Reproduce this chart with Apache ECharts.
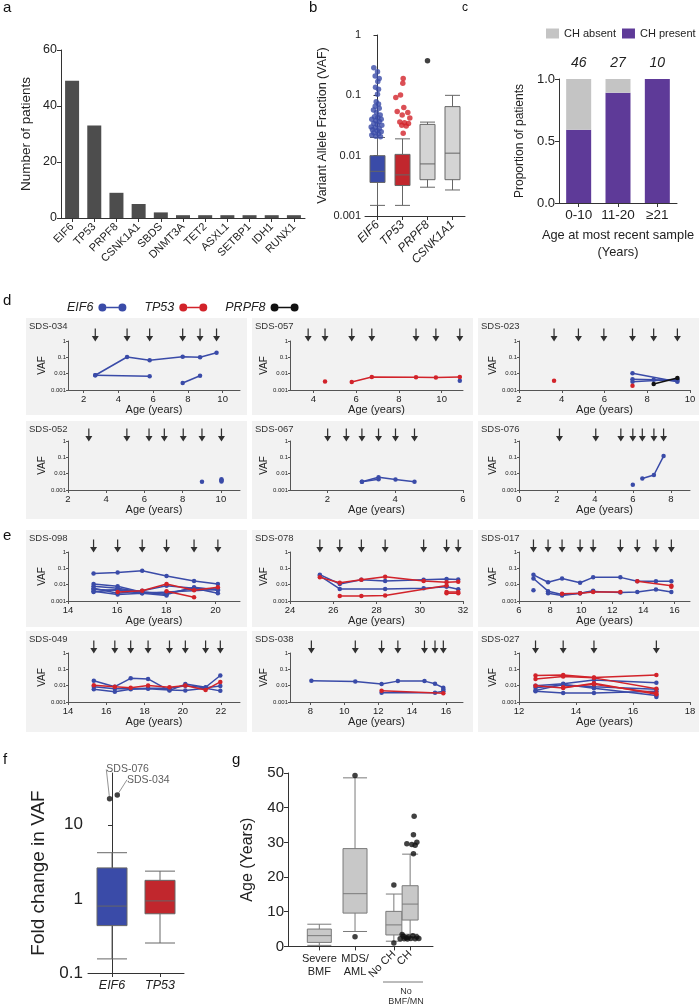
<!DOCTYPE html>
<html><head><meta charset="utf-8">
<script src="https://cdn.jsdelivr.net/npm/echarts@6/dist/echarts.min.js"></script>
<style>html,body{margin:0;padding:0;background:#fff}#c{width:700px;height:1005px}</style>
</head><body><div id="c"></div>
<script>
// ---------- DATA ----------
// panel a
const genesA = ['EIF6','TP53','PRPF8','CSNK1A1','SBDS','DNMT3A','TET2','ASXL1','SETBP1','IDH1','RUNX1'];
const patientsA = [49,33,9,5,2,1,1,1,1,1,1];
// panel b  [min, Q1, median, Q3, max]
const genesB = ['EIF6','TP53','PRPF8','CSNK1A1'];
const vafBox = [[0.0015,0.0036,0.0055,0.0100,0.020],[0.0015,0.0032,0.0048,0.0105,0.019],[0.0030,0.0040,0.0073,0.033,0.036],[0.0027,0.0040,0.011,0.065,0.10]];
const vafOutEIF6 = [0.287,0.247,0.21,0.19,0.17,0.136,0.126,0.104,0.078,0.072,0.066,0.061,0.057,0.052,0.047,0.044,0.043,0.040,0.040,0.038,0.037,0.034,0.033,0.032,0.030,0.029,0.028,0.027,0.026,0.025,0.024,0.023,0.021,0.022,0.0205];
const vafOutTP53 = [0.19,0.158,0.101,0.092,0.063,0.054,0.052,0.047,0.042,0.036,0.035,0.034,0.032,0.031,0.0235];
const vafOutPRPF8 = [0.375];
// panel c
const ageGroupsC = ['0-10','11-20','\u226521'];
const chPresent = [0.59,0.89,1.0];
const chAbsent = [0.41,0.11,0.0];
const groupN = [46,27,10];
// panels d / e : sample ages and VAF tracks [age, VAF]
const sds034Samples = [2.67,4.5,5.8,7.7,8.7,9.65];
const sds034EIF6 = [[[2.67,0.008],[4.5,0.105],[5.8,0.066],[7.7,0.11],[8.7,0.1],[9.65,0.19]],[[2.67,0.008],[5.8,0.007]],[[7.7,0.0027],[8.7,0.0075]]];
const sds034TP53 = [];
const sds034PRPF8 = [];
const sds057Samples = [3.75,4.54,5.79,6.73,8.8,9.73,10.85];
const sds057EIF6 = [[[10.85,0.0037]]];
const sds057TP53 = [[[4.54,0.0033]],[[5.79,0.0031],[6.73,0.0062],[8.8,0.006],[9.73,0.0058],[10.85,0.0062]]];
const sds057PRPF8 = [];
const sds023Samples = [3.64,4.78,5.97,7.31,8.3,9.41];
const sds023EIF6 = [[[7.31,0.0105],[9.41,0.0032]],[[7.31,0.0045],[8.3,0.0042],[9.41,0.0037]],[[7.31,0.0032],[9.41,0.0045]]];
const sds023TP53 = [[[3.64,0.0037]],[[7.31,0.0018]]];
const sds023PRPF8 = [[[8.3,0.0023],[9.41,0.0055]]];
const sds052Samples = [3.09,5.08,6.24,7.04,8.03,9.01,10.03];
const sds052EIF6 = [[[9.01,0.0032]],[[10.03,0.0033]],[[10.03,0.004]],[[10.03,0.0046]]];
const sds052TP53 = [];
const sds052PRPF8 = [];
const sds067Samples = [2.01,2.56,3.02,3.51,4.01,4.57];
const sds067EIF6 = [[[3.02,0.0032],[3.51,0.006],[4.01,0.0044],[4.57,0.0032]],[[3.02,0.0032],[3.51,0.0045]]];
const sds067TP53 = [];
const sds067PRPF8 = [];
const sds076Samples = [2.13,4.04,5.36,5.99,6.49,7.1,7.61];
const sds076EIF6 = [[[5.99,0.0021]],[[6.49,0.005],[7.1,0.0083],[7.61,0.12]]];
const sds076TP53 = [];
const sds076PRPF8 = [];
const sds098Samples = [15.04,16.02,17.02,18.01,19.13,20.1];
const sds098EIF6 = [[[15.04,0.048],[16.02,0.055],[17.02,0.072],[18.01,0.034],[19.13,0.017],[20.1,0.011]],
  [[15.04,0.011],[16.02,0.008],[17.02,0.0035],[18.01,0.0025],[19.13,0.007],[20.1,0.0045]],
  [[15.04,0.008],[16.02,0.006],[17.02,0.0035],[18.01,0.003],[19.13,0.006],[20.1,0.0055]],
  [[15.04,0.006],[16.02,0.003],[17.02,0.0042],[18.01,0.0085],[19.13,0.006],[20.1,0.003]],
  [[15.04,0.005],[16.02,0.0045],[17.02,0.003],[18.01,0.0035],[20.1,0.005]],
  [[15.04,0.004],[16.02,0.0025],[17.02,0.003],[18.01,0.0022]],
  [[15.04,0.0035],[16.02,0.005],[17.02,0.0035]]];
const sds098TP53 = [[[16.02,0.0035],[17.02,0.0042],[18.01,0.011],[19.13,0.0045],[20.1,0.007]],[[18.01,0.004],[19.13,0.0017]]];
const sds098PRPF8 = [];
const sds078Samples = [25.38,26.3,27.3,28.4,30.18,31.24,31.78];
const sds078EIF6 = [[[25.38,0.041],[26.3,0.011],[27.3,0.02],[28.4,0.017],[30.18,0.02],[31.24,0.022],[31.78,0.021]],
  [[25.38,0.035],[26.3,0.0055],[28.4,0.0055],[30.18,0.006],[31.24,0.0075],[31.78,0.0052]]];
const sds078TP53 = [[[25.38,0.028],[26.3,0.013],[27.3,0.02],[28.4,0.031],[30.18,0.017],[31.24,0.014],[31.78,0.015]],
  [[26.3,0.002],[27.3,0.002],[28.4,0.0022],[31.24,0.009]],
  [[31.24,0.0035],[31.78,0.0035]],[[31.24,0.003],[31.78,0.003]]];
const sds078PRPF8 = [];
const sds017Samples = [6.93,7.87,8.77,9.93,10.77,12.52,13.61,14.81,15.8];
const sds017EIF6 = [[[6.93,0.04],[7.87,0.014],[8.77,0.024],[9.93,0.013],[10.77,0.028],[12.52,0.028],[13.61,0.016],[14.81,0.016],[15.8,0.016]],
  [[6.93,0.024],[7.87,0.004],[8.77,0.0025],[9.93,0.003],[10.77,0.0038],[12.52,0.0033],[13.61,0.0035],[14.81,0.005],[15.8,0.0035]],
  [[6.93,0.0045]],
  [[7.87,0.003],[8.77,0.0022],[9.93,0.003],[10.77,0.0042]]];
const sds017TP53 = [[[8.77,0.0028],[9.93,0.003],[10.77,0.0035],[12.52,0.0035]],[[13.61,0.016],[15.8,0.0085]],[[15.8,0.0075]]];
const sds017PRPF8 = [];
const sds049Samples = [15.35,16.45,17.28,18.19,19.31,20.14,21.2,21.97];
const sds049EIF6 = [[[15.35,0.02],[16.45,0.0087],[17.28,0.028],[18.19,0.026],[19.31,0.005],[20.14,0.0125],[21.2,0.008],[21.97,0.042]],
  [[15.35,0.0085],[16.45,0.0065],[17.28,0.0065],[18.19,0.007],[19.31,0.007],[20.14,0.01],[21.2,0.0075],[21.97,0.0095]],
  [[15.35,0.006],[16.45,0.0043],[17.28,0.006],[18.19,0.0065],[19.31,0.0055],[20.14,0.005],[21.2,0.007],[21.97,0.0048]]];
const sds049TP53 = [[[15.35,0.0105],[16.45,0.0085],[17.28,0.0075],[18.19,0.0102],[19.31,0.008],[20.14,0.0102],[21.2,0.0055],[21.97,0.017]]];
const sds049PRPF8 = [];
const sds038Samples = [8.06,10.65,12.2,13.16,14.73,15.35,15.84];
const sds038EIF6 = [[[8.06,0.02],[10.65,0.018],[12.2,0.0125],[13.16,0.019],[14.73,0.019],[15.35,0.013],[15.84,0.0075]],
  [[12.2,0.0037],[15.35,0.0037],[15.84,0.0045]],[[15.84,0.0058]]];
const sds038TP53 = [[[12.2,0.0048],[15.84,0.0034]]];
const sds038PRPF8 = [];
const sds027Samples = [12.58,13.55,14.63,16.82];
const sds027EIF6 = [[[12.58,0.01],[13.55,0.013],[14.63,0.022],[16.82,0.015]],
  [[12.58,0.0075],[13.55,0.011],[14.63,0.0085],[16.82,0.006]],
  [[12.58,0.005],[13.55,0.012],[14.63,0.007],[16.82,0.0025]],
  [[12.58,0.0045],[13.55,0.0035],[14.63,0.0035],[16.82,0.0045]],
  [[16.82,0.002]]];
const sds027TP53 = [[[12.58,0.042],[13.55,0.045],[14.63,0.032],[16.82,0.045]],
  [[12.58,0.026],[13.55,0.036],[14.63,0.03],[16.82,0.0065]],
  [[12.58,0.0098],[13.55,0.0072],[14.63,0.014],[16.82,0.003]],
  [[13.55,0.008],[14.63,0.012],[16.82,0.0035]]];
const sds027PRPF8 = [];
// axis ranges and tick labels of panels d/e
const xRanges = [[1.1,11],[2.9,11],[2,10],[2,11],[0.9,6],[0,9],[14,21],[24,32],[6,17],[14,23],[6.8,17],[12,18]];
const xTicks = [[2,4,6,8,10],[4,6,8,10],[2,4,6,8,10],[2,4,6,8,10],[2,4,6],[0,2,4,6,8],[14,16,18,20],[24,26,28,30,32],[6,8,10,12,14,16],[14,16,18,20,22],[8,10,12,14,16],[12,14,16,18]];
// panel f
const foldGenes = ['EIF6','TP53'];
const foldBox = [[0.155,0.436,0.80,2.62,4.2],[0.254,0.63,0.94,1.78,2.37]];
const foldOutNames = ['SDS-076','SDS-034'];
const foldOutValues = [22.5,25.2];
// panel g
const groupsG = ['Severe\nBMF','MDS/\nAML','No CH','CH'];
const ageBox = [[0.3,1.15,3.1,5.0,6.4],[4.3,9.6,15.2,28.2,48.6],[1.5,3.3,6.2,10.1,15.1],[3.5,7.6,12.2,17.5,26.6]];
const ageOutMDS = [49.3,2.8];
const ageOutNoCH = [17.7,1.0];
const ageOutCH = [37.5,32.2,30.0,29.6,29.4,29.2,26.7,2.2,3.4,2.2,2.5,2.7,2.3,3.1,2.2,2.7,2.3,2.9,2.1];

// ---------- LAYOUT (jitter in px, positions) ----------
const jitEIF6 = [-3.7,0,-2.3,1.7,0.3,-2,1,0,-1.3,1,-2.3,1.7,-4,-1,2.7,-3,0.3,-5.7,3.7,-1.7,1.7,-3.7,-0.3,4.3,-6.3,-2.3,1.7,-5,-0.3,3.7,-3.7,1,-1.7,-5.7,3];
const jitTP53 = [0.7,0.3,-2,-6.7,1.3,-5.3,5.3,-0.3,7.3,-2.7,2,6,-0.7,3.7,0.7];
const jitCH = [4,3.3,6.7,-3.3,1.7,5,3.3,-10,-8,-6,-4,-1.7,0.7,2.7,5,6.7,8.7,-6.7,-2.7];
const posG = [1,2.14,3.38,3.9];

const FONT = '"Liberation Sans", Arial, Helvetica, sans-serif';
const BLUE = '#3A4BA8', RED = '#D2232A', BLK = '#111111', AX = '#333333', TXT = '#222222';
const geneColor = {EIF6: BLUE, TP53: RED, PRPF8: BLK};

const grid = [], xAxis = [], yAxis = [], series = [], graphic = [];
const addGrid = g => (grid.push(g), grid.length - 1);
const addX = o => (xAxis.push(o), xAxis.length - 1);
const addY = o => (yAxis.push(o), yAxis.length - 1);
const axLine = {show: true, lineStyle: {color: AX, width: 1}};
const axTick = {show: true, length: 4, lineStyle: {color: AX}};
const letter = (t, x, y, fs) => graphic.push({type: 'text', left: x, top: y, style: {text: t, fontSize: fs || 15, fontFamily: FONT, fill: '#111'}});

// ---------- a ----------
letter('a', 3, 0);
{
  const g = addGrid({left: 61, top: 50, width: 244, height: 168});
  const xi = addX({gridIndex: g, type: 'category', data: genesA, axisLine: axLine, axisTick: {...axTick, alignWithLabel: true},
    axisLabel: {rotate: 45, interval: 0, fontSize: 11, color: TXT, margin: 7, fontFamily: FONT}});
  const yi = addY({gridIndex: g, type: 'value', min: 0, max: 60, interval: 20, axisLine: axLine, axisTick: axTick, splitLine: {show: false},
    axisLabel: {fontSize: 12.5, color: TXT, margin: 4}, name: 'Number of patients', nameLocation: 'middle', nameGap: 28,
    nameTextStyle: {fontSize: 13.5, color: TXT}});
  series.push({type: 'bar', xAxisIndex: xi, yAxisIndex: yi, data: patientsA, barWidth: 14, itemStyle: {color: '#4D4D4D'}});
}
// ---------- b ----------
letter('b', 309, 0);
{
  const gw = 100;
  const g = addGrid({left: 365, top: 35, width: gw, height: 181});
  const xi = addX({gridIndex: g, type: 'category', data: genesB, axisLine: axLine, axisTick: {...axTick, alignWithLabel: true},
    axisLabel: {rotate: 45, interval: 0, fontSize: 12, fontStyle: 'italic', color: TXT, margin: 7}});
  const xv = addX({gridIndex: g, type: 'value', min: -0.5, max: 3.5, show: false});
  const yi = addY({gridIndex: g, type: 'log', logBase: 10, min: 0.001, max: 1, axisLine: axLine, axisTick: axTick, splitLine: {show: false},
    axisLabel: {fontSize: 11, color: TXT, margin: 4}, name: 'Variant Allele Fraction (VAF)', nameLocation: 'middle', nameGap: 36,
    nameTextStyle: {fontSize: 12.5, color: TXT}});
  const fills = [BLUE, '#C1272D', '#D4D4D4', '#D4D4D4'];
  series.push({type: 'boxplot', xAxisIndex: xi, yAxisIndex: yi, boxWidth: [15, 15],
    data: vafBox.map((v, i) => ({value: v, itemStyle: {color: fills[i], borderColor: '#666', borderWidth: 1}}))});
  const ppu = gw / 4;
  series.push({type: 'scatter', xAxisIndex: xv, yAxisIndex: yi, symbolSize: 5.5, itemStyle: {color: BLUE},
    data: vafOutEIF6.map((v, i) => [0 + jitEIF6[i] / ppu, v])});
  series.push({type: 'scatter', xAxisIndex: xv, yAxisIndex: yi, symbolSize: 5.5, itemStyle: {color: RED},
    data: vafOutTP53.map((v, i) => [1 + jitTP53[i] / ppu, v])});
  series.push({type: 'scatter', xAxisIndex: xv, yAxisIndex: yi, symbolSize: 5.5, itemStyle: {color: BLK},
    data: vafOutPRPF8.map(v => [2, v])});
}
// ---------- c ----------
letter('c', 462, 2, 12);
const legendC = {left: 546, top: 28, orient: 'horizontal', padding: 0, itemWidth: 13, itemHeight: 10, itemGap: 6, icon: 'rect',
  textStyle: {fontSize: 11, color: TXT}, data: ['CH absent', 'CH present'], selectedMode: false};
{
  const g = addGrid({left: 559, top: 79, width: 118, height: 124});
  const xi = addX({gridIndex: g, type: 'category', data: ageGroupsC, axisLine: axLine, axisTick: {...axTick, alignWithLabel: true},
    axisLabel: {fontSize: 13.5, color: TXT, margin: 5, interval: 0, hideOverlap: false}, name: 'Age at most recent sample\n(Years)', nameLocation: 'middle', nameGap: 24,
    nameTextStyle: {fontSize: 12.8, color: TXT, lineHeight: 17}});
  const yi = addY({gridIndex: g, type: 'value', min: 0, max: 1, interval: 0.5, axisLine: axLine, axisTick: axTick, splitLine: {show: false},
    axisLabel: {fontSize: 13, color: TXT, margin: 4, formatter: v => v.toFixed(1)}, name: 'Proportion of patients', nameLocation: 'middle', nameGap: 33,
    nameTextStyle: {fontSize: 12, color: TXT}});
  series.push({type: 'bar', name: 'CH present', stack: 'c', xAxisIndex: xi, yAxisIndex: yi, data: chPresent, barWidth: 25, itemStyle: {color: '#5E3A98'}});
  series.push({type: 'bar', name: 'CH absent', stack: 'c', xAxisIndex: xi, yAxisIndex: yi, data: chAbsent, barWidth: 25, itemStyle: {color: '#C4C4C4'},
    label: {show: true, position: 'top', distance: 9, fontSize: 14, fontStyle: 'italic', color: TXT, formatter: p => String(groupN[p.dataIndex])}});
}
// ---------- d / e ----------
letter('d', 3, 293);
letter('e', 3, 528);
const legendD = {left: 62, top: 296, align: 'right', itemWidth: 28, itemHeight: 8, itemGap: 18, selectedMode: false,
  icon: 'path://M0,4a4,4 0 1,0 8,0a4,4 0 1,0 -8,0 M8,3.3 L20,3.3 L20,4.7 L8,4.7 Z M20,4a4,4 0 1,0 8,0a4,4 0 1,0 -8,0',
  textStyle: {fontSize: 12.5, fontStyle: 'italic', color: TXT}, data: ['EIF6', 'TP53', 'PRPF8']};
const panels = [
  ['SDS-034', sds034Samples, sds034EIF6, sds034TP53, sds034PRPF8],
  ['SDS-057', sds057Samples, sds057EIF6, sds057TP53, sds057PRPF8],
  ['SDS-023', sds023Samples, sds023EIF6, sds023TP53, sds023PRPF8],
  ['SDS-052', sds052Samples, sds052EIF6, sds052TP53, sds052PRPF8],
  ['SDS-067', sds067Samples, sds067EIF6, sds067TP53, sds067PRPF8],
  ['SDS-076', sds076Samples, sds076EIF6, sds076TP53, sds076PRPF8],
  ['SDS-098', sds098Samples, sds098EIF6, sds098TP53, sds098PRPF8],
  ['SDS-078', sds078Samples, sds078EIF6, sds078TP53, sds078PRPF8],
  ['SDS-017', sds017Samples, sds017EIF6, sds017TP53, sds017PRPF8],
  ['SDS-049', sds049Samples, sds049EIF6, sds049TP53, sds049PRPF8],
  ['SDS-038', sds038Samples, sds038EIF6, sds038TP53, sds038PRPF8],
  ['SDS-027', sds027Samples, sds027EIF6, sds027TP53, sds027PRPF8]
];
const colLeft = [68, 290, 519], colW = [172, 173, 171];
const rowTop = [341, 441, 552, 653], plotH = 49;
const bgX = [26, 252, 478], bgW = [221, 221, 221];
const bgY = [318, 421, 530, 631], bgH = [97, 98, 97, 101];
const ARROW = 'path://M3.3,0 L4.7,0 L4.7,8 L8,8 L4,14 L0,8 L3.3,8 Z';
panels.forEach((p, k) => {
  const c = k % 3, r = Math.floor(k / 3);
  graphic.push({type: 'rect', z: -10, shape: {x: bgX[c], y: bgY[r], width: bgW[c], height: bgH[r]}, style: {fill: '#F2F2F2'}});
  graphic.push({type: 'text', left: bgX[c] + 3, top: bgY[r] + 3, style: {text: p[0], fontSize: 9.5, fontFamily: FONT, fill: '#333'}});
  const g = addGrid({left: colLeft[c], top: rowTop[r], width: colW[c], height: plotH});
  const xi = addX({gridIndex: g, type: 'value', min: xRanges[k][0], max: xRanges[k][1], splitLine: {show: false},
    axisLine: {show: true, lineStyle: {color: '#555'}}, axisTick: {show: true, length: 3, lineStyle: {color: '#555'}, customValues: xTicks[k]},
    axisLabel: {fontSize: 9.5, color: TXT, margin: 4, customValues: xTicks[k]},
    name: 'Age (years)', nameLocation: 'middle', nameGap: 14, nameTextStyle: {fontSize: 11, color: TXT}});
  const yi = addY({gridIndex: g, type: 'log', logBase: 10, min: 0.001, max: 1, splitLine: {show: false},
    axisLine: {show: true, lineStyle: {color: '#555'}}, axisTick: {show: true, length: 2, lineStyle: {color: '#555'}},
    axisLabel: {fontSize: 6, color: TXT, margin: 2}, name: 'VAF', nameLocation: 'middle', nameGap: 19, nameTextStyle: {fontSize: 10, color: TXT}});
  [['EIF6', p[2]], ['TP53', p[3]], ['PRPF8', p[4]]].forEach(([gene, tracks]) => {
    tracks.forEach(t => series.push({type: 'line', name: gene, xAxisIndex: xi, yAxisIndex: yi, data: t, symbol: 'circle', symbolSize: 4.5,
      showSymbol: true, lineStyle: {width: 1.5, color: geneColor[gene]}, itemStyle: {color: geneColor[gene]}, z: gene === 'EIF6' ? 3 : 4}));
  });
  series.push({type: 'scatter', xAxisIndex: xi, yAxisIndex: yi, clip: false, silent: true, symbol: ARROW, symbolSize: [7, 13],
    symbolOffset: [0, -6], itemStyle: {color: '#000'}, data: p[1].map(a => [a, 1])});
});
// ---------- f ----------
letter('f', 3, 752);
{
  const gw = 96;
  const g = addGrid({left: 88, top: 773, width: gw, height: 200});
  const xi = addX({gridIndex: g, type: 'category', data: foldGenes, axisLine: axLine, axisTick: {...axTick, alignWithLabel: true},
    axisLabel: {fontSize: 12.5, fontStyle: 'italic', color: TXT, margin: 6}});
  const xv = addX({gridIndex: g, type: 'value', min: -0.5, max: 1.5, show: false});
  const yi = addY({gridIndex: g, type: 'log', logBase: 10, min: 0.1, max: 50, axisLine: axLine, axisTick: axTick, splitLine: {show: false},
    axisLabel: {fontSize: 17, color: TXT, margin: 5, showMaxLabel: false}, name: 'Fold change in VAF', nameLocation: 'middle', nameGap: 40,
    nameTextStyle: {fontSize: 19, color: TXT}});
  const fills = [BLUE, '#C1272D'];
  series.push({type: 'boxplot', xAxisIndex: xi, yAxisIndex: yi, boxWidth: [30, 30],
    data: foldBox.map((v, i) => ({value: v, itemStyle: {color: fills[i], borderColor: '#666', borderWidth: 1}}))});
  const jit = [-0.05, 0.11];
  const lab = [[18, -16], [31, -2]];
  series.push({type: 'scatter', xAxisIndex: xv, yAxisIndex: yi, symbolSize: 5.5, itemStyle: {color: BLK},
    data: foldOutValues.map((v, i) => ({name: foldOutNames[i], value: [0 + jit[i], v]})),
    label: {show: true, position: 'top', formatter: '{b}', fontSize: 10.5, color: '#333'},
    labelLayout: pp => ({dx: lab[pp.dataIndex][0], dy: lab[pp.dataIndex][1]}),
    labelLine: {show: true, lineStyle: {color: '#777', width: 0.8}}});
}
// ---------- g ----------
letter('g', 232, 752);
{
  const gw = 145, xmax = 4.63, ppu = gw / xmax;
  const g = addGrid({left: 288, top: 773, width: gw, height: 173.4});
  const xi = addX({gridIndex: g, type: 'value', position: 'bottom', min: 0, max: xmax, splitLine: {show: false}, axisLine: axLine,
    axisTick: {...axTick, customValues: posG},
    axisLabel: {fontSize: 11, color: TXT, margin: 6, lineHeight: 13, customValues: posG.slice(0, 2), formatter: v => groupsG[posG.indexOf(v)]}});
  const xi2 = addX({gridIndex: g, type: 'value', position: 'bottom', offset: 0, min: 0, max: xmax, splitLine: {show: false}, axisLine: {show: false}, axisTick: {show: false},
    axisLabel: {fontSize: 11, color: TXT, margin: 6, rotate: 45, customValues: posG.slice(2), formatter: v => groupsG[posG.indexOf(v)]}});
  const yi = addY({gridIndex: g, type: 'value', min: 0, max: 50, interval: 10, axisLine: axLine, axisTick: axTick, splitLine: {show: false},
    axisLabel: {fontSize: 15, color: TXT, margin: 4}, name: 'Age (Years)', nameLocation: 'middle', nameGap: 32,
    nameTextStyle: {fontSize: 16, color: TXT}});
  const sty = {color: '#C8C8C8', borderColor: '#7A7A7A', borderWidth: 1};
  series.push({type: 'boxplot', xAxisIndex: xi, yAxisIndex: yi, boxWidth: [24, 24], itemStyle: sty,
    data: [0, 1].map(i => [posG[i]].concat(ageBox[i]))});
  series.push({type: 'boxplot', xAxisIndex: xi2, yAxisIndex: yi, boxWidth: [16, 16], itemStyle: sty,
    data: [2, 3].map(i => [posG[i]].concat(ageBox[i]))});
  series.push({type: 'scatter', xAxisIndex: xi, yAxisIndex: yi, symbolSize: 5.5, itemStyle: {color: BLK},
    data: ageOutMDS.map(v => [posG[1], v]).concat(ageOutNoCH.map(v => [posG[2], v]))
      .concat(ageOutCH.map((v, i) => [posG[3] + jitCH[i] / ppu, v]))});
  graphic.push({type: 'line', shape: {x1: 383, y1: 982, x2: 423, y2: 982}, style: {stroke: '#555', lineWidth: 0.8}});
  graphic.push({type: 'text', x: 406, y: 987, style: {text: 'No\nBMF/MN', fontSize: 9, lineHeight: 9.5, fontFamily: FONT, fill: '#333', align: 'center'}});
}

const chart = echarts.init(document.getElementById('c'), null, {renderer: 'canvas'});
chart.setOption({animation: false, backgroundColor: '#ffffff', textStyle: {fontFamily: FONT},
  legend: [legendD, legendC], grid, xAxis, yAxis, series, graphic: {elements: graphic}});
</script></body></html>
